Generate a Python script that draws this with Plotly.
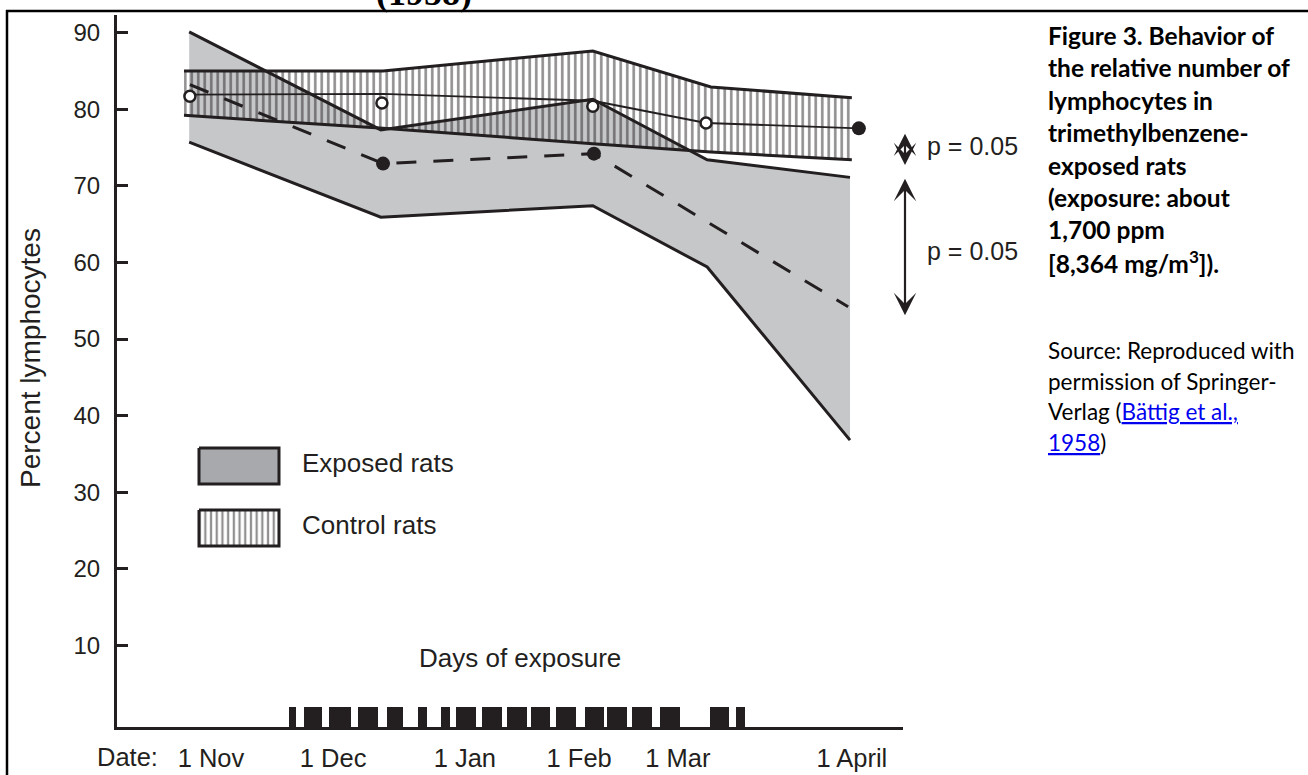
import plotly.graph_objects as go

# ---------------------------------------------------------------------------
# Data: x = days counted from 1 Nov, y = percent lymphocytes
# ---------------------------------------------------------------------------
# Exposed rats: range band (upper / lower) at each sampling date
exposed_days = [-5.9, 45.9, 103.2, 134.1, 172.7]
exposed_upper = [90.1, 77.3, 81.3, 73.4, 71.1]
exposed_lower = [75.7, 65.9, 67.4, 59.4, 36.8]

# Control rats: range band (upper / lower)
control_days = [-7.3, 46.5, 103.2, 135.1, 173.2]
control_upper = [85.0, 85.0, 87.6, 82.9, 81.5]
control_lower = [79.2, 77.5, 75.5, 74.4, 73.4]

# Exposed rats: mean (dashed line, filled dots)
exposed_mean_days = [-5.7, 46.5, 103.5, 172.2]
exposed_mean = [83.2, 72.9, 74.2, 54.2]
exposed_dot_days = [46.5, 103.5]
exposed_dot = [72.9, 74.2]

# Control rats: mean (thin line, open dots, final filled dot)
control_mean_days = [-5.7, 46.5, 103.2, 133.8, 175.1]
control_mean = [81.9, 82.0, 81.1, 78.2, 77.5]
control_dot_days = [-5.7, 46.2, 103.2, 133.8]
control_dot = [81.7, 80.8, 80.4, 78.2]
control_end_day = [175.1]
control_end = [77.5]

# Days of exposure (start / end of each exposure block, days from 1 Nov)
exposure_start = [21.1, 25.1, 31.9, 39.7, 47.6, 55.9, 62.2, 66.2, 73.2,
                  80.0, 86.5, 93.2, 101.1, 107.0, 113.8, 121.4, 134.9, 141.9]
exposure_end = [23.0, 30.0, 37.8, 45.1, 51.9, 58.4, 64.6, 71.6, 78.6,
                85.4, 91.6, 98.6, 106.2, 112.4, 119.2, 126.8, 140.0, 144.3]
exposure_mark_top = 2.0

# Axis labels
date_labels = ["1 Nov", "1 Dec", "1 Jan", "1 Feb", "1 Mar", "1 April"]
date_label_days = [0, 33, 68.6, 99.5, 126.2, 173.2]
y_ticks = [10, 20, 30, 40, 50, 60, 70, 80, 90]

# Significance brackets (from, to) in percent
sig_spans = [(77.0, 72.7), (71.1, 53.1)]
sig_labels = ["p = 0.05", "p = 0.05"]

legend_labels = ["Exposed rats", "Control rats"]

caption_lines = [
    "Figure 3. Behavior of",
    "the relative number of",
    "lymphocytes in",
    "trimethylbenzene-",
    "exposed rats",
    "(exposure: about",
    "1,700 ppm",
    "[8,364 mg/m<sup>3</sup>]).",
]
LINK = '<span style="color:#0000ee"><u>{}</u></span>'
source_lines = [
    "Source: Reproduced with",
    "permission of Springer-",
    "Verlag (" + LINK.format("Bättig et al.,"),
    LINK.format("1958") + ")",
]

# ---------------------------------------------------------------------------
# Layout geometry (pixels) and helpers
# ---------------------------------------------------------------------------
W, H = 1308, 775
L, R, T, B = 117, 903, 15, 727          # plot area edges in pixels
PX_DAY0, PX_PER_DAY = 211.0, 3.7        # x scale
PX_Y0, PX_PER_PCT = 722.0, 7.66         # y scale

def dx(px):
    return (px - PX_DAY0) / PX_PER_DAY

def dy(py):
    return (PX_Y0 - py) / PX_PER_PCT

def pxp(px):
    return (px - L) / (R - L)

def pyp(py):
    return (B - py) / (B - T)

INK = "#231f20"
GREY = "#c6c7c9"
GREY_DARK = "#a7a9ac"
SANS = "Liberation Sans, Arial, Helvetica, sans-serif"
CAPTION_FONT = "Lato, Carlito, Calibri, sans-serif"

y_min, y_max = dy(B), dy(T)
x_min, x_max = dx(L), dx(R)

fig = go.Figure()

# Exposed band (grey)
fig.add_trace(go.Scatter(
    x=exposed_days + exposed_days[::-1],
    y=exposed_upper + exposed_lower[::-1],
    fill="toself", fillcolor=GREY, mode="lines", line=dict(width=0),
    hoverinfo="skip", showlegend=False))

# Control band (vertical hatching, transparent background)
fig.add_trace(go.Scatter(
    x=control_days + control_days[::-1],
    y=control_upper + control_lower[::-1],
    fill="toself", fillcolor="rgba(0,0,0,0)", mode="lines", line=dict(width=0),
    fillpattern=dict(shape="|", size=6.5, solidity=0.4,
                     fgcolor=INK, bgcolor="rgba(0,0,0,0)"),
    hoverinfo="skip", showlegend=False))

# Band outlines
for xs, ys in [(exposed_days, exposed_upper), (exposed_days, exposed_lower),
               (control_days, control_upper), (control_days, control_lower)]:
    fig.add_trace(go.Scatter(x=xs, y=ys, mode="lines",
                             line=dict(color=INK, width=3),
                             hoverinfo="skip", showlegend=False))

# Control mean line
fig.add_trace(go.Scatter(x=control_mean_days, y=control_mean, mode="lines",
                         line=dict(color=INK, width=1.8),
                         showlegend=False))

# Exposed mean dashed line
fig.add_trace(go.Scatter(x=exposed_mean_days, y=exposed_mean, mode="lines",
                         line=dict(color=INK, width=3, dash="20px,17px"),
                         showlegend=False))

# Markers
fig.add_trace(go.Scatter(x=control_dot_days, y=control_dot, mode="markers",
                         marker=dict(symbol="circle", size=11, color="white",
                                     line=dict(color=INK, width=2.5)),
                         showlegend=False))
fig.add_trace(go.Scatter(x=exposed_dot_days + control_end_day,
                         y=exposed_dot + control_end, mode="markers",
                         marker=dict(symbol="circle", size=14, color=INK),
                         showlegend=False))

# Days of exposure blocks along the baseline
fig.add_trace(go.Bar(
    x=[(s + e) / 2 for s, e in zip(exposure_start, exposure_end)],
    width=[e - s for s, e in zip(exposure_start, exposure_end)],
    y=[exposure_mark_top - y_min] * len(exposure_start),
    base=y_min, marker=dict(color=INK, line=dict(width=0)),
    hoverinfo="skip", showlegend=False))

# Key boxes
def box(px0, py0, px1, py1):
    xs = [dx(px0), dx(px1), dx(px1), dx(px0), dx(px0)]
    ys = [dy(py0), dy(py0), dy(py1), dy(py1), dy(py0)]
    return xs, ys

bx, by = box(199, 448, 279, 484)
fig.add_trace(go.Scatter(x=bx, y=by, fill="toself", fillcolor=GREY_DARK,
                         mode="lines", line=dict(color=INK, width=3),
                         hoverinfo="skip", showlegend=False))
bx, by = box(199, 510, 279, 546)
fig.add_trace(go.Scatter(x=bx, y=by, fill="toself", fillcolor="white",
                         fillpattern=dict(shape="|", size=5.7, solidity=0.4,
                                          fgcolor=INK, bgcolor="white"),
                         mode="lines", line=dict(color=INK, width=3),
                         hoverinfo="skip", showlegend=False))

annotations = []

def text(s, px, py, size, family=SANS, xanchor="left", color=INK, **kw):
    annotations.append(dict(
        text=s, x=pxp(px), y=pyp(py), xref="paper", yref="paper",
        xanchor=xanchor, yanchor="middle", showarrow=False,
        borderpad=0, borderwidth=0,
        font=dict(family=family, size=size, color=color), **kw))

# Key labels
text(legend_labels[0], 302, 463, 26)
text(legend_labels[1], 302, 525, 26)

# Axis titles and labels
text("Days of exposure", 520, 658, 26, xanchor="center")
text("Date:", 97, 757, 25.5)
text("Percent lymphocytes", 30, 358, 28, xanchor="center", textangle=-90)

# Significance arrows and labels
arrow_px = 905
for (v0, v1), lab, ly in zip(sig_spans, sig_labels, [146, 251]):
    annotations.append(dict(
        x=pxp(arrow_px), y=v1, ax=0, ay=v0,
        xref="paper", yref="y", axref="pixel", ayref="y", text="",
        showarrow=True, arrowhead=3, startarrowhead=3, arrowside="end+start",
        arrowsize=1.7, startarrowsize=1.7, arrowwidth=2.2, arrowcolor=INK))
    text(lab, 927, ly, 25)

# Caption on the right
for i, line in enumerate(caption_lines):
    base = 45 + 32.4 * i
    text("<b>" + line + "</b>", 1048, base - 0.387 * 24.5, 24.5,
         family=CAPTION_FONT, color="#000000")
for i, line in enumerate(source_lines):
    base = 359.3 + 30.7 * i
    text(line, 1048, base - 0.387 * 22.5, 22.5,
         family=CAPTION_FONT, color="#000000")

# Clipped heading fragment above the frame
annotations.append(dict(
    text="<b>(1958)</b>", x=pxp(424), y=pyp(13.5), xref="paper", yref="paper",
    xanchor="center", yanchor="bottom", showarrow=False, borderpad=0,
    borderwidth=0,
    font=dict(family="Liberation Serif, DejaVu Serif, serif", size=36,
              color="#000000")))

# Frame lines (page table border)
shapes = [
    dict(type="line", xref="paper", yref="paper",
         x0=pxp(6), x1=pxp(W + 5), y0=pyp(11), y1=pyp(11),
         line=dict(color="#000000", width=2.5)),
    dict(type="line", xref="paper", yref="paper",
         x0=pxp(7), x1=pxp(7), y0=pyp(10), y1=pyp(H + 40),
         line=dict(color="#000000", width=2.5)),
]

fig.update_layout(
    width=W, height=H, autosize=False,
    margin=dict(l=L, r=W - R, t=T, b=H - B),
    paper_bgcolor="white", plot_bgcolor="white",
    showlegend=False,
    annotations=annotations, shapes=shapes,
    bargap=0,
    xaxis=dict(range=[x_min, x_max], showgrid=False, zeroline=False,
               showline=True, linewidth=3, linecolor=INK, automargin=False,
               tickvals=date_label_days, ticktext=date_labels, ticks="",
               tickfont=dict(family=SANS, size=25.5, color=INK),
               ticklabelstandoff=6, fixedrange=True),
    yaxis=dict(range=[y_min, y_max], showgrid=False, zeroline=False,
               showline=True, linewidth=3, linecolor=INK, automargin=False,
               tickvals=y_ticks, ticks="inside", ticklen=11, tickwidth=3,
               tickcolor=INK,
               tickfont=dict(family=SANS, size=24, color=INK),
               ticklabelstandoff=9, fixedrange=True),
)

fig.write_html("out.html")
